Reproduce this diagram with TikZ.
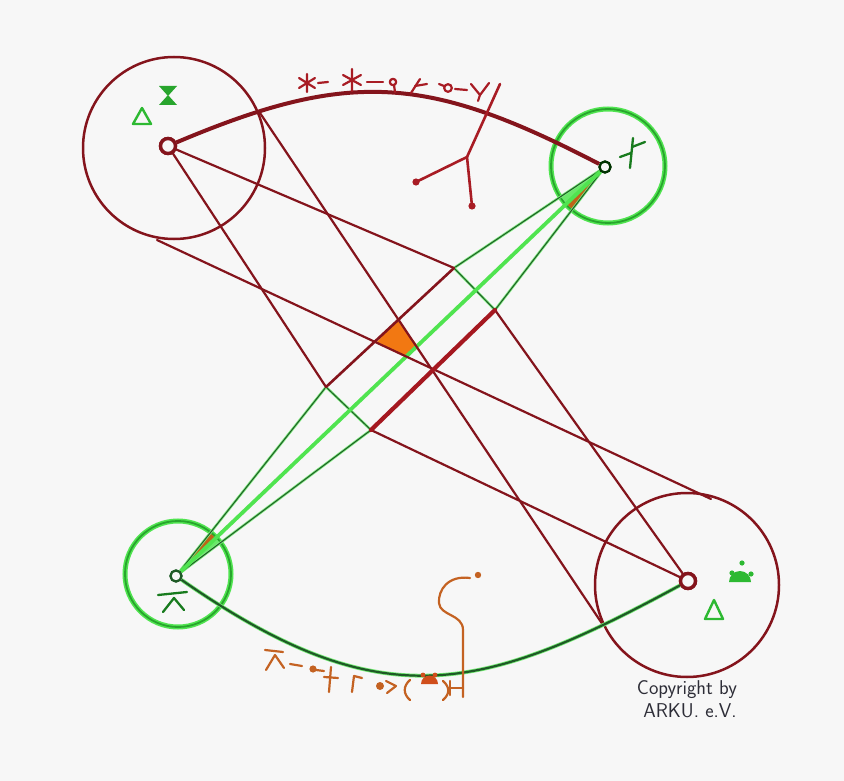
\documentclass[tikz,border=0pt]{standalone}
\usepackage{tikz}
\definecolor{bg}{RGB}{247,247,247}
\definecolor{dred}{RGB}{132,20,28}
\definecolor{mred}{RGB}{165,24,32}
\definecolor{gred}{RGB}{168,28,36}
\definecolor{bgreen}{RGB}{80,228,80}
\definecolor{dgreen}{RGB}{30,90,38}
\definecolor{mgreen}{RGB}{40,165,45}
\definecolor{ggreen}{RGB}{45,185,50}
\definecolor{orng}{RGB}{242,120,18}
\definecolor{obrown}{RGB}{190,100,25}
\definecolor{gorange}{RGB}{196,98,34}
\definecolor{ink}{RGB}{45,45,55}
\tikzset{
  redline/.style={draw=dred, line width=2.2pt, line cap=round},
  redmid/.style={draw=dred, line width=2.6pt, line cap=round},
  redthick/.style={draw=mred, line width=4.2pt, line cap=round},
  arcred/.style={draw=dred, line width=4pt},
  arcgreen/.style={draw=dgreen, line width=2.2pt, preaction={draw=bgreen!80, line width=3.8pt}},
  bandline/.style={draw=dgreen, line width=1pt, preaction={draw=bgreen!75, line width=2.6pt}},
  centerline/.style={draw=bgreen, line width=3.8pt},
  redcirc/.style={draw=dred, line width=2.5pt},
  greencirc/.style={draw=mgreen, line width=1.8pt, preaction={draw=bgreen, line width=5pt}},
  loopred/.style={circle, draw=dred, line width=3.4pt, fill=bg, minimum size=15pt, inner sep=0pt},
  loopgreen/.style={circle, draw=dgreen, line width=2.2pt, fill=bg, minimum size=11pt, inner sep=0pt},
  glyphr/.style={draw=gred, line width=2.2pt, line cap=round, line join=round},
  glyphg/.style={draw=ggreen, line width=2.4pt, line cap=round, line join=round},
  glyphdg/.style={draw=dgreen!80!green, line width=2.3pt, line cap=round, line join=round},
  glypho/.style={draw=gorange, line width=2.2pt, line cap=round, line join=round},
  copy/.style={text=ink, font=\sffamily\fontsize{20}{23}\selectfont, inner sep=0pt}
}
\begin{document}
\begin{tikzpicture}[x=1pt,y=-1pt]
\fill[bg] (0,0) rectangle (844,781);
\useasboundingbox (0,0) rectangle (844,781);

% key points
\coordinate (P1) at (326,387);
\coordinate (P2) at (454,268);
\coordinate (P3) at (495,310);
\coordinate (P4) at (371,430);
\coordinate (T1) at (260,113);
\coordinate (T2) at (603,625);
\coordinate (E1) at (157,240);
\coordinate (E2) at (711,499);
\coordinate (Q1) at (397,320);
\coordinate (Q2) at (377,342);
\coordinate (Q3) at (407,357);
\coordinate (Q4) at (418,346);
\coordinate (XB) at (453,312);
\coordinate (XC) at (369,392);

% big circles
\draw[redcirc] (174,148) circle[radius=91];
\draw[redcirc] (687,585) circle[radius=92];
\draw[greencirc] (608,166) circle[radius=57];
\draw[greencirc] (178,574) circle[radius=53];

% loops (ends of the arcs)
\node[loopred] (A) at (168,146) {};
\node[loopgreen, draw=black!80!green] (B) at (605,167) {};
\node[loopgreen] (C) at (176,576) {};
\node[loopred] (D) at (688,581) {};

% coloured wedges inside the green circles
\begin{scope}
  \clip (608,166) circle[radius=56];
  \fill[bgreen!85] (B.center) -- (P2) -- (XB) -- cycle;
  \fill[obrown] (B.center) -- (XB) -- (P3) -- cycle;
\end{scope}
\begin{scope}
  \clip (178,574) circle[radius=52];
  \fill[obrown] (C.center) -- (P1) -- (XC) -- cycle;
  \fill[bgreen!85] (C.center) -- (XC) -- (P4) -- cycle;
\end{scope}

% central orange patch
\fill[orng] (Q1) -- (Q2) -- (Q3) -- (Q4) -- cycle;

% green band from B to C
\draw[bandline] (C) -- (P1);
\draw[bandline] (C) -- (P4);
\draw[bandline] (B) -- (P2);
\draw[bandline] (B) -- (P3);
\draw[bandline] (P1) -- (P4);
\draw[bandline] (P2) -- (P3);
\draw[centerline] (C) -- (B);

% red lines
\draw[redline] (A) -- (P1);
\draw[redline] (A) -- (P2);
\draw[redline] (D) -- (P3);
\draw[redline] (D) -- (P4);
\draw[redline] (T1) -- (T2);
\draw[redline] (E1) -- (E2);
\draw[redmid] (P1) -- (P2);
\draw[redthick] (P4) -- (P3);

% arcs
\draw[arcred] (A) .. controls (350,69) and (428,75) .. (B);
\draw[arcgreen] (C) .. controls (383,720) and (481,693) .. (D);

% re-draw loops on top
\node[loopred] at (A) {};
\node[loopgreen, draw=black!80!green] at (B) {};
\node[loopgreen] at (C) {};
\node[loopred] at (D) {};

% ---- red glyphs along the upper arc
\draw[glyphr] (307,74) -- (307,92) (299,78) -- (315,88) (299,88) -- (315,78);
\draw[glyphr] (318,83) -- (328,82);
\draw[glyphr] (352,69) -- (352,91) (343,75) -- (361,85) (343,85) -- (361,75);
\draw[glyphr] (367,82) -- (383,82);
\draw[glyphr] (393,82) circle[radius=3.2];
\draw[glyphr] (394,85) -- (395,92);
\draw[glyphr] (411,93) -- (420,79);
\draw[glyphr] (415,86) -- (427,84);
\draw[glyphr] (448,88) circle[radius=3.8];
\draw[glyphr] (444,86) -- (439,84);
\draw[glyphr] (455,89) -- (467,90);
\draw[glyphr] (471,84) -- (480,95) -- (489,83);
\draw[glyphr] (480,95) -- (478,101);
% tree
\draw[glyphr, line width=2.6pt] (500,84) -- (467,157) -- (416,182);
\draw[glyphr, line width=2.6pt] (467,157) -- (472,206);
\fill[gred] (416,182) circle[radius=3.6];
\fill[gred] (472,206) circle[radius=3.6];

% ---- green glyphs
\draw[glyphg] (133,124) -- (142,108) -- (151,124) -- cycle;
\fill[mgreen] (159,86) -- (177,86) -- (168,96) -- cycle;
\fill[mgreen] (159,105) -- (177,105) -- (168,95) -- cycle;
\draw[glyphdg] (633,138) -- (630,168);
\draw[glyphdg] (620,157) -- (631,153);
\draw[glyphdg] (632,147) -- (645,142);
\draw[glyphdg] (158,595) -- (187,592);
\draw[glyphdg] (163,612) -- (174,598) -- (184,610);
\draw[glyphg] (705,619) -- (714,600) -- (723,619) -- cycle;
\fill[ggreen] (742,563) circle[radius=2.6];
\fill[ggreen] (732,573) circle[radius=2.6];
\fill[ggreen] (751,574) circle[radius=2.6];
\fill[ggreen] (729,582) arc[start angle=180, end angle=360, radius=11] -- cycle;

% ---- orange glyphs
\draw[glypho] (470,578) .. controls (448,575) and (438,590) .. (439,603)
  .. controls (440,616) and (463,614) .. (463,630) -- (463,697);
\fill[gorange] (478,575) circle[radius=3.2];
\draw[glypho] (265,650) -- (283,652);
\draw[glypho] (266,670) -- (275,655) -- (284,668);
\draw[glypho] (290,664) -- (302,666);
\fill[gorange] (313,669) circle[radius=3.6];
\draw[glypho] (316,670) -- (324,671);
\draw[glypho] (331,667) -- (329,692);
\draw[glypho] (324,677) -- (338,678);
\draw[glypho] (352,692) -- (354,676) -- (362,678);
\fill[gorange] (380,686) circle[radius=4];
\draw[glypho] (386,681) -- (396,686) -- (387,693);
\draw[glypho] (410,680) .. controls (403,686) and (403,694) .. (410,700);
\fill[gorange!80!red] (423,675) circle[radius=2.4];
\fill[gorange!80!red] (435,675) circle[radius=2.4];
\fill[gorange!80!red] (421,684) arc[start angle=180, end angle=360, radius=8.5] -- cycle;
\draw[glypho] (443,681) .. controls (450,687) and (450,694) .. (443,700);
\draw[glypho] (450,681) -- (450,695);
\draw[glypho] (450,688) -- (463,688);

% ---- copyright
\node[copy] (cp1) at (687,690) {Copyright by};
\node[copy] (cp2) at (690,711) {ARKU. e.V.};
\end{tikzpicture}
\end{document}
